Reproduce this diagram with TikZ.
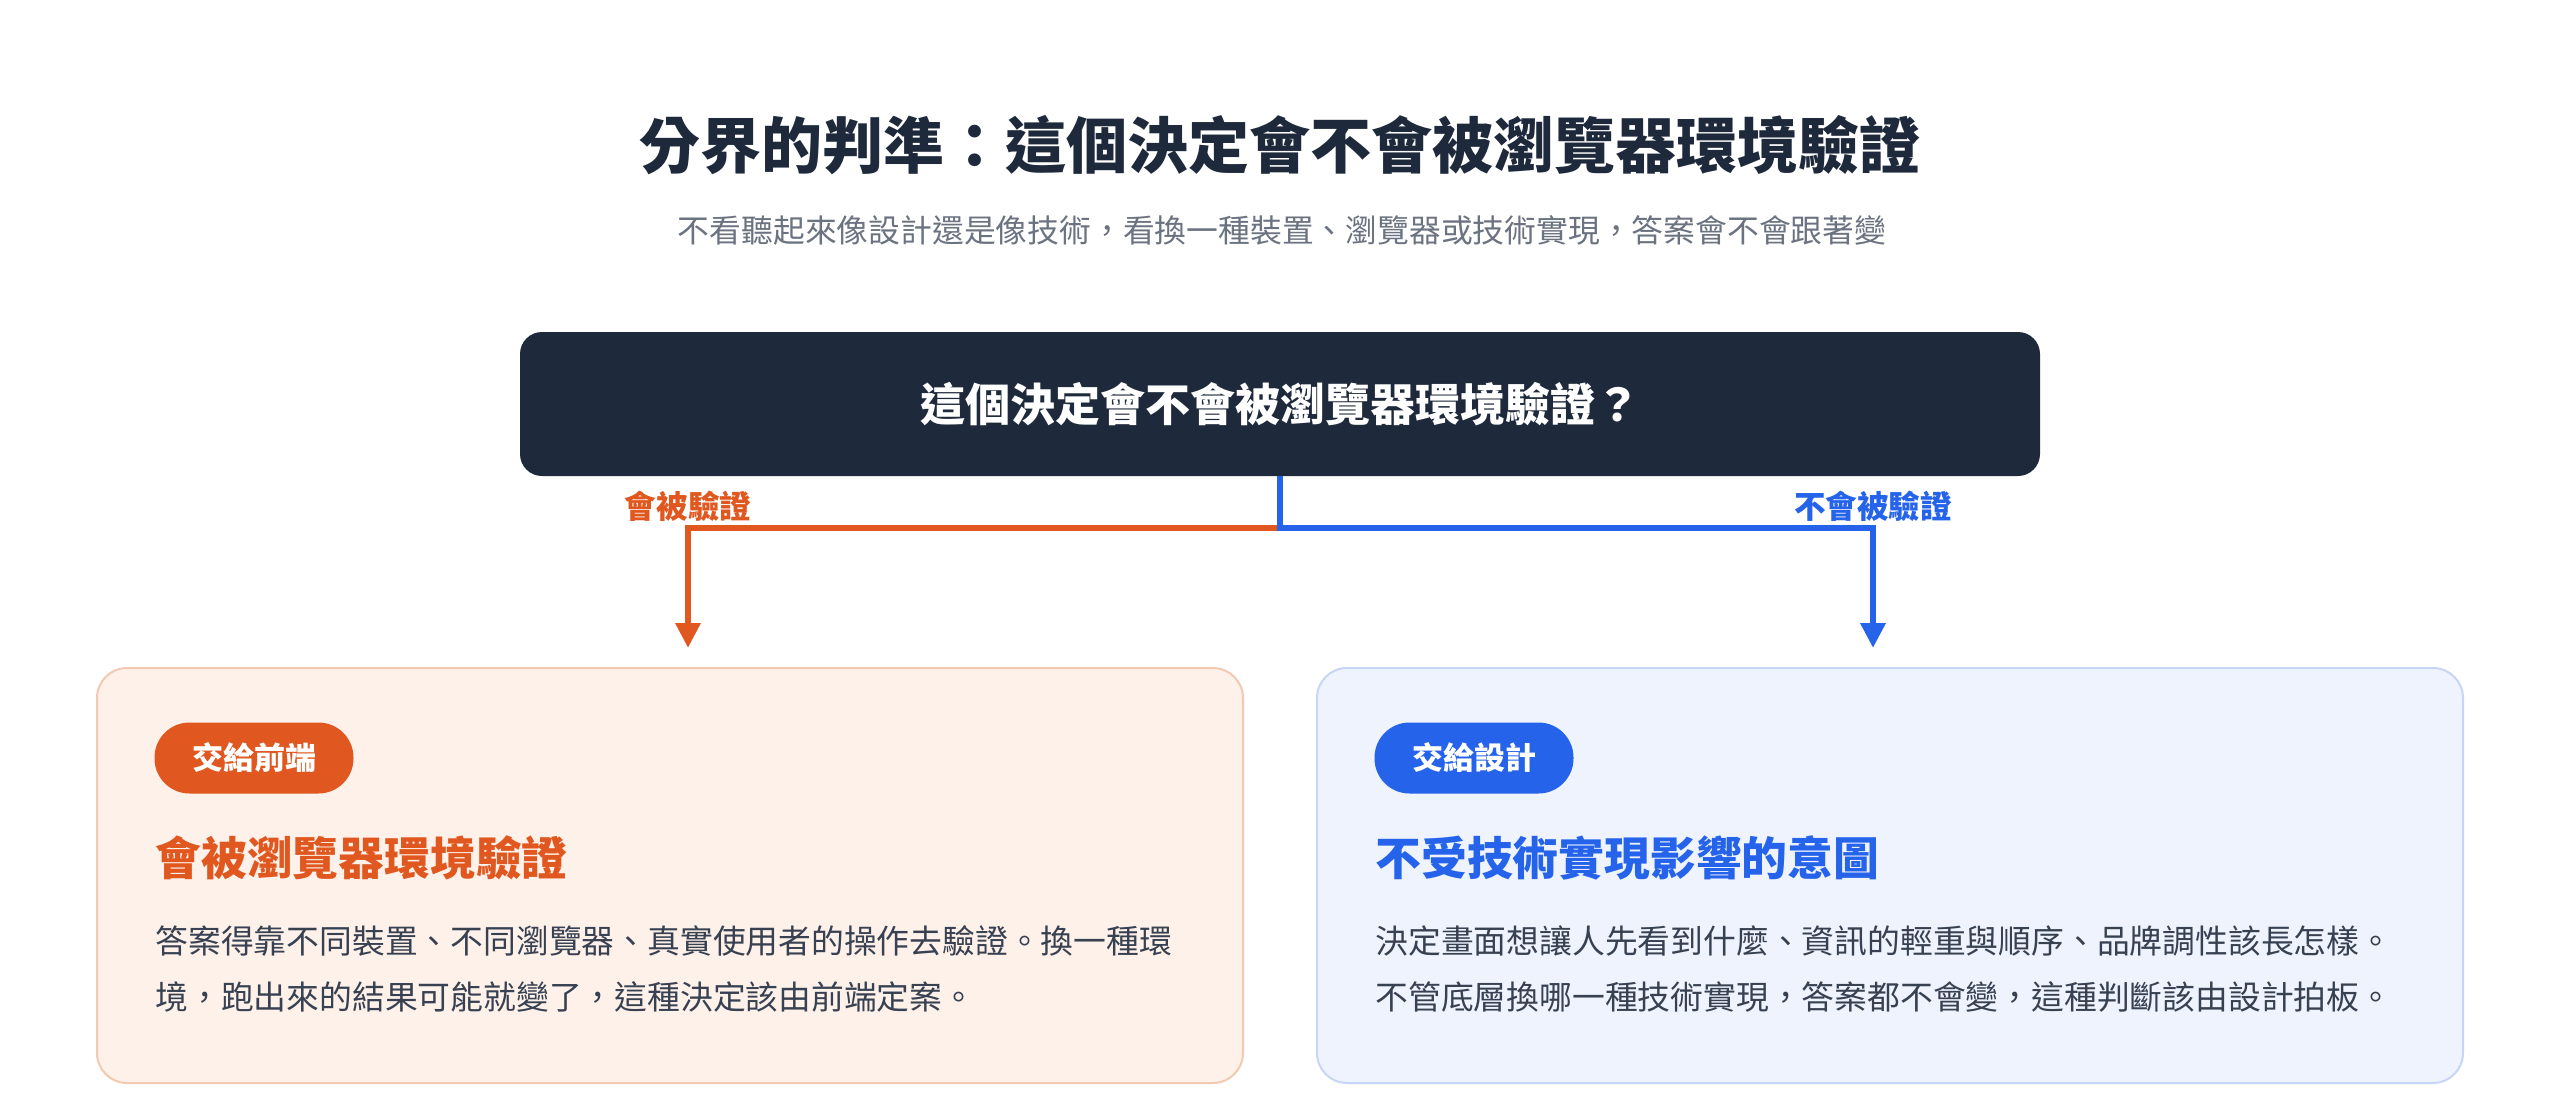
\documentclass[tikz,border=0pt]{standalone}
\usepackage{fontspec}
\setmainfont{Noto Sans CJK TC}
\usetikzlibrary{arrows.meta}

\definecolor{ink}{HTML}{1E293B}
\definecolor{subgray}{HTML}{6B7280}
\definecolor{bodygray}{HTML}{374151}
\definecolor{fe}{HTML}{E0581F}
\definecolor{fefill}{HTML}{FEF1EA}
\definecolor{feline}{HTML}{F3C9B1}
\definecolor{ds}{HTML}{2563EB}
\definecolor{dsfill}{HTML}{EEF3FE}
\definecolor{dsline}{HTML}{C7D6F5}

\begin{document}
\begin{tikzpicture}[x=0.5pt, y=-0.5pt,
    card/.style={draw=#1line, fill=#1fill, line width=1pt, rounded corners=15pt},
    badge/.style={fill=#1, text=white, rounded corners=17.5pt, minimum width=99.5pt,
        minimum height=35.5pt, inner sep=0pt, font=\fontsize{15.5pt}{18pt}\selectfont\bfseries},
    heading/.style={anchor=west, inner sep=0pt, text=#1, font=\fontsize{22.9pt}{26pt}\selectfont\bfseries},
    bodytext/.style={anchor=west, inner sep=0pt, align=left, text=bodygray,
        font=\fontsize{16.4pt}{28pt}\selectfont},
    branch/.style={draw=#1, line width=3.2pt, -{Triangle[length=12.5pt,width=12pt]}},
    branchlabel/.style={inner sep=0pt, text=#1, font=\fontsize{15.8pt}{18pt}\selectfont\bfseries}]
    \useasboundingbox[fill=white] (0,0) rectangle (2560,1108);

    % title
    \node[text=ink, font=\fontsize{30.5pt}{34pt}\selectfont\bfseries] (title) at (1280,145)
        {分界的判準：這個決定會不會被瀏覽器環境驗證};
    \node[text=subgray, font=\fontsize{15.9pt}{20pt}\selectfont] (subtitle) at (1282,230)
        {不看聽起來像設計還是像技術，看換一種裝置、瀏覽器或技術實現，答案會不會跟著變};

    % question
    \node[fill=ink, rounded corners=11pt, minimum width=760pt, minimum height=72pt,
        text=white, font=\fontsize{22.5pt}{26pt}\selectfont\bfseries] (q) at (1280,404)
        {這個決定會不會被瀏覽器環境驗證？};

    % cards
    \filldraw[card=fe] (97,668) rectangle (1243,1083);
    \filldraw[card=ds] (1317,668) rectangle (2463,1083);

    % branches
    \coordinate (split) at (1280,528);
    \coordinate (feend) at (688,648);
    \coordinate (dsend) at (1873,648);
    \draw[branch=fe] (split) -| (feend);
    \draw[branch=ds] (q.south) -- (split) -| (dsend);
    \node[branchlabel=fe] (felabel) at (688,506) {會被驗證};
    \node[branchlabel=ds] (dslabel) at (1873,506) {不會被驗證};

    % left card
    \node[badge=fe] (febadge) at (254,758) {交給前端};
    \node[heading=fe] (fehead) at (155,858) {會被瀏覽器環境驗證};
    \node[bodytext] (febody) at (155,969)
        {答案得靠不同裝置、不同瀏覽器、真實使用者的操作去驗證。換一種環\\
         境，跑出來的結果可能就變了，這種決定該由前端定案。};

    % right card
    \node[badge=ds] (dsbadge) at (1474,758) {交給設計};
    \node[heading=ds] (dshead) at (1375,858) {不受技術實現影響的意圖};
    \node[bodytext] (dsbody) at (1375,969)
        {決定畫面想讓人先看到什麼、資訊的輕重與順序、品牌調性該長怎樣。\\
         不管底層換哪一種技術實現，答案都不會變，這種判斷該由設計拍板。};
\end{tikzpicture}
\end{document}
